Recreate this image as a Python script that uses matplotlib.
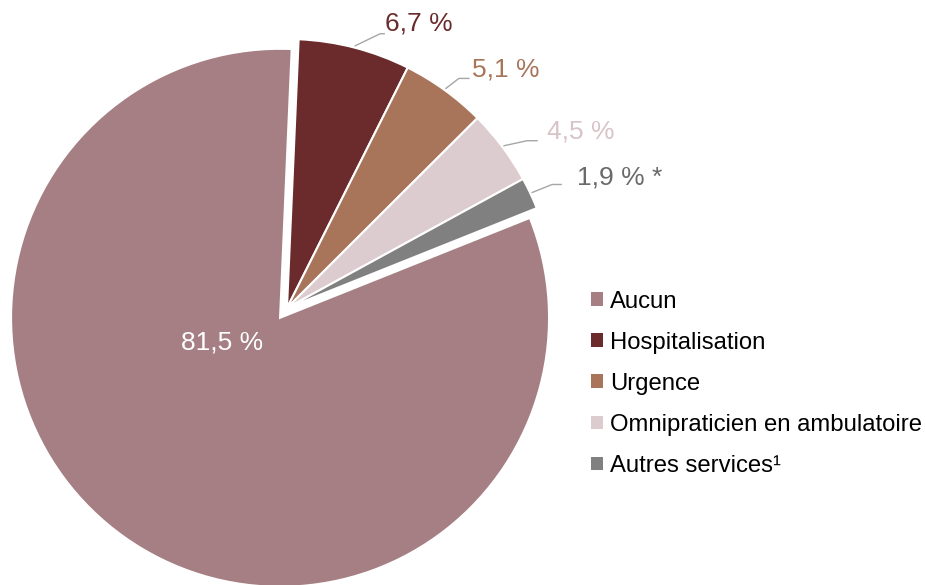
import numpy as np
import matplotlib.pyplot as plt
from matplotlib.patches import Patch

plt.rcParams['font.family'] = ['Liberation Sans', 'DejaVu Sans']

categories = ['Aucun', 'Hospitalisation', 'Urgence', 'Omnipraticien en ambulatoire', 'Autres services¹']
values = [81.5, 6.7, 5.1, 4.5, 1.9]
value_labels = ['81,5 %', '6,7 %', '5,1 %', '4,5 %', '1,9 % *']
colors = ['#a57f84', '#6b2b2d', '#a9755a', '#dccccf', '#808080']
label_colors = ['white', '#6b2b2d', '#a9755a', '#d8c4c8', '#6a6a6a']

W, H = 926, 585
fig = plt.figure(figsize=(W / 100, H / 100), dpi=100)
ax = fig.add_axes([0, 0, 1, 1])

# work in pixel units so the pie sits where it does in the original
cx, cy, R = 287, 277, 269
wedges, _ = ax.pie(values, colors=colors, startangle=21.8, counterclock=False,
                   center=(cx, cy), radius=R, explode=[12, 0, 0, 0, 0],
                   wedgeprops=dict(edgecolor='white', linewidth=1.5))
ax.set_xlim(0, W)
ax.set_ylim(0, H)
ax.set_aspect('equal')
ax.axis('off')

# label inside the big slice
c0 = wedges[0].center
ax.text(c0[0] - 58, c0[1] - 25, value_labels[0], color=label_colors[0],
        fontsize=19, ha='center', va='center')

# leader lines for the small slices
elbow = [(25, 12), (13, 10), (23, 5), (20, 8)]
tail = [4, 10, 10, 9]
txt_off = [(1, 10), (3, 9), (10, 9), (16, 7)]
for i, w in enumerate(wedges[1:]):
    mid = np.deg2rad((w.theta1 + w.theta2) / 2)
    x0 = w.center[0] + (w.r + 2) * np.cos(mid)
    y0 = w.center[1] + (w.r + 2) * np.sin(mid)
    x1, y1 = x0 + elbow[i][0], y0 + elbow[i][1]
    x2 = x1 + tail[i]
    ax.plot([x0, x1, x2], [y0, y1, y1], color='#a6a6a6', lw=1)
    ax.text(x2 + txt_off[i][0], y1 + txt_off[i][1], value_labels[i + 1],
            color=label_colors[i + 1], fontsize=19, ha='left', va='center')

handles = [Patch(facecolor=c, edgecolor='none') for c in colors]
fig.legend(handles, categories, loc='upper left', bbox_to_anchor=(591 / W, 1 - 290.5 / H),
           frameon=False, fontsize=17.2, borderpad=0, borderaxespad=0,
           handlelength=0.5, handleheight=0.5, handletextpad=0.3, labelspacing=0.8)

fig.savefig('out.png', dpi=100)
